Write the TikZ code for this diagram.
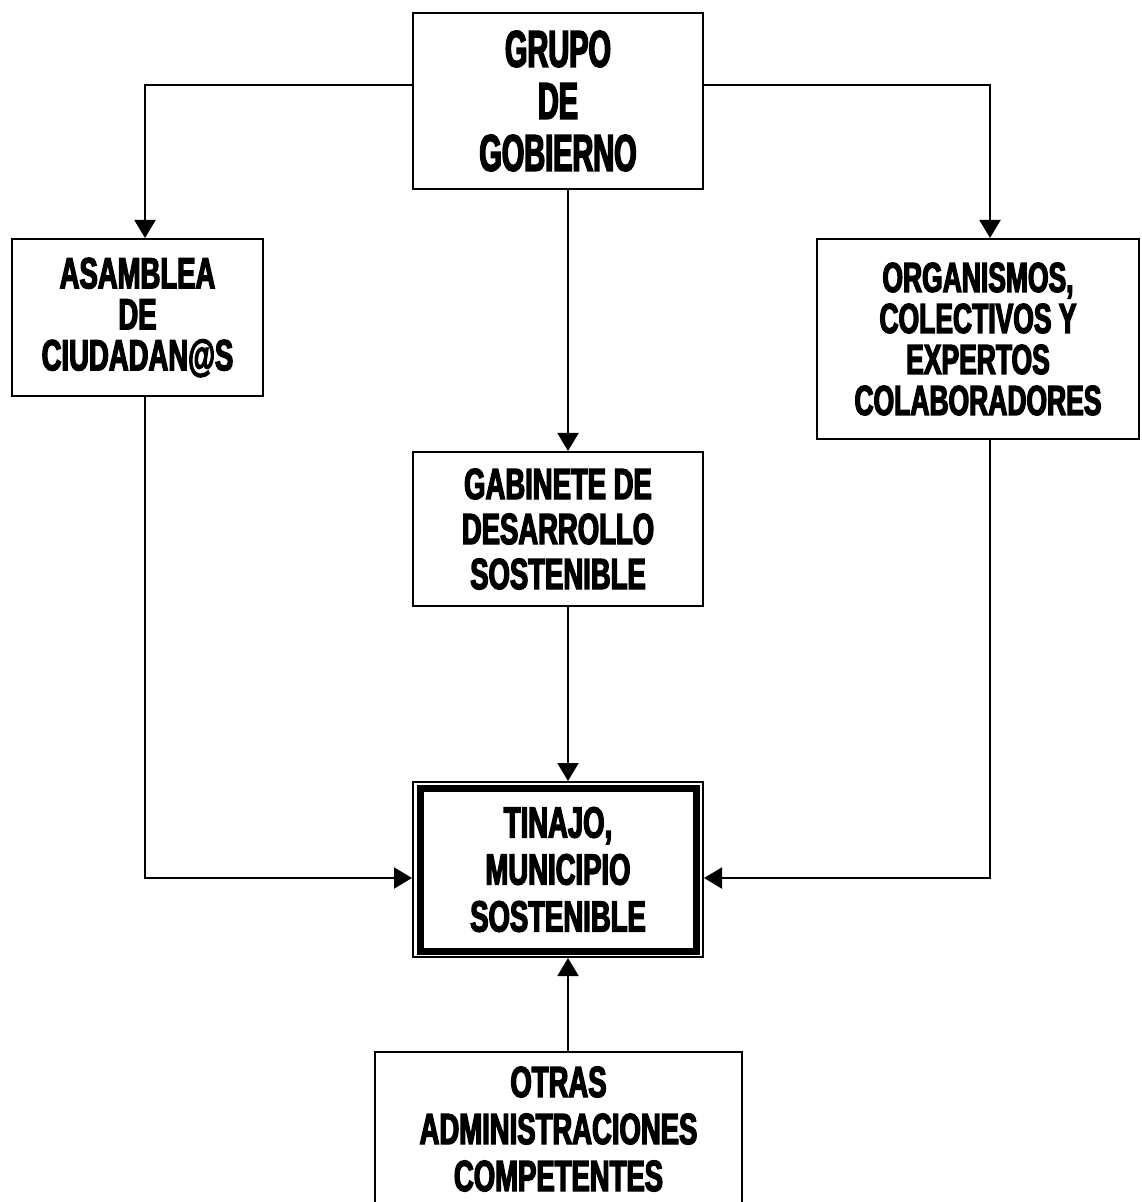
\documentclass[tikz,border=0pt]{standalone}
\usepackage{fontspec}
\newfontfamily\boxfont[FakeStretch=0.63,FakeBold=3]{Liberation Sans Bold}
\newfontfamily\headfont[FakeStretch=0.56,FakeBold=3]{Liberation Sans Bold}
\usetikzlibrary{arrows.meta,positioning,calc}

\begin{document}
\begin{tikzpicture}[x=0.5pt,y=-0.5pt,
  box/.style={draw,line width=1pt,align=center,inner sep=0pt},
  txt/.style={font=\boxfont\fontsize{21.8}{#1}\selectfont},
  arr/.style={line width=1pt,-{Triangle[length=9pt,width=10.5pt]}}]
\useasboundingbox (0,0) rectangle (1141,1202);
\node[box,minimum width=145pt,minimum height=88pt,
  font=\headfont\fontsize{25.8}{26}\selectfont] (grupo) at (558,101)
  {GRUPO\\DE\\GOBIERNO};
\node[box,txt=20.5,minimum width=125.5pt,minimum height=78.5pt] (asamblea)
  at (137.5,317.5) {ASAMBLEA\\DE\\CIUDADAN@S};
\node[box,font=\boxfont\fontsize{21}{20.5}\selectfont,
  minimum width=161pt,minimum height=100pt] (organismos)
  at (978,339) {ORGANISMOS,\\COLECTIVOS Y\\EXPERTOS\\COLABORADORES};
\node[box,txt=22.5,minimum width=145pt,minimum height=77pt] (gabinete)
  at (558,529) {GABINETE DE\\DESARROLLO\\SOSTENIBLE};
\node[box,txt=23.5,minimum width=145pt,minimum height=87.5pt] (tinajo)
  at (558,869.5) {TINAJO,\\MUNICIPIO\\SOSTENIBLE};
\draw[line width=3.5pt] ($(tinajo.north west)+(8,7)$)
  rectangle ($(tinajo.south east)+(-8,-7)$);
\node[box,txt=23.5,minimum width=183.5pt,minimum height=77pt] (otras)
  at (558.5,1129) {OTRAS\\ADMINISTRACIONES\\COMPETENTES};
% guide lines for the connectors
\coordinate (mid) at (568,0);
\coordinate (lcol) at (145,0);
\coordinate (rcol) at (990,0);
\coordinate (top) at (0,85);
\coordinate (hrow) at (0,878);
\draw[arr] (grupo.west |- top) -| (asamblea.north -| lcol);
\draw[arr] (grupo.east |- top) -| (organismos.north -| rcol);
\draw[arr] (grupo.south -| mid) -- (gabinete.north -| mid);
\draw[arr] (gabinete.south -| mid) -- (tinajo.north -| mid);
\draw[arr] (asamblea.south -| lcol) |- (tinajo.west |- hrow);
\draw[arr] (organismos.south -| rcol) |- (tinajo.east |- hrow);
\draw[arr] (otras.north -| mid) -- (tinajo.south -| mid);
\end{tikzpicture}
\end{document}
